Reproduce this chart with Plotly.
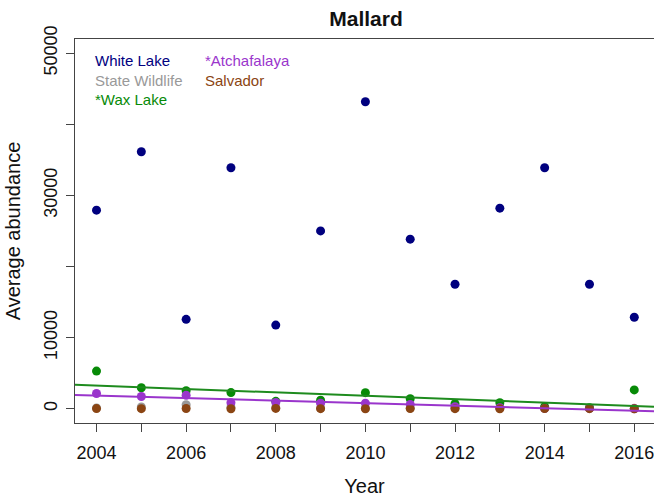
import numpy as np
import plotly.graph_objects as go

# Mallard average abundance by site and year
years = list(range(2004, 2017))
white_lake = [27930, 36140, 12580, 33890, 11770, 25010, 43180, 23850, 17510, 28210, 33890, 17510, 12870]
state_wildlife = [120, 260, 560, 220, 160, 110, 90, 100, 80, 70, 60, 50, 60]
wax_lake = [5300, 2950, 2550, 2280, 1050, 1200, 2270, 1410, 720, 840, 300, 150, 2650]
atchafalaya = [2150, 1730, 1900, 860, 900, 790, 790, 600, 300, 150, 50, 50, 0]
salvador = [30, 20, 40, 10, 50, 20, 10, 30, 20, 10, 40, 20, 10]

site_names = ["White Lake", "State Wildlife", "*Wax Lake", "*Atchafalaya", "Salvador"]
site_values = [white_lake, state_wildlife, wax_lake, atchafalaya, salvador]
site_colors = ["#00007F", "#999999", "#078A07", "#9A35CC", "#8B4513"]

x_range = [2003.52, 2016.44]
y_range = [-2000, 52000]
y_ticks = [0, 10000, 20000, 30000, 40000, 50000]
y_tick_text = ["0", "10000", "", "30000", "", "50000"]
x_tick_text = [str(y) if y % 2 == 0 else "" for y in years]

FONT = "Liberation Sans, Arial, sans-serif"
W, H = 654, 497
M_L, M_R, M_T, M_B = 75, 0, 39, 74
PW, PH = W - M_L - M_R, H - M_T - M_B

fig = go.Figure()

for name, vals, col in zip(site_names, site_values, site_colors):
    fig.add_trace(go.Scatter(
        x=years, y=vals, mode="markers", name=name,
        marker=dict(color=col, size=9, line=dict(width=0)),
        showlegend=False,
    ))

# Linear trends for the sites with significant declines
for vals, col in [(wax_lake, "#1E8B1E"), (atchafalaya, "#9A35CC")]:
    slope, intercept = np.polyfit(years, vals, 1)
    xs = np.array(x_range)
    fig.add_trace(go.Scatter(
        x=xs, y=intercept + slope * xs, mode="lines",
        line=dict(color=col, width=2), showlegend=False, hoverinfo="skip",
    ))

# Text-only legend in two columns (positions in pixels, converted to plot fractions)
legend_cols = [[0, 1, 2], [3, 4]]
col_x = [93, 203]
row_y = [60, 80, 100]
for ci, idxs in enumerate(legend_cols):
    for ri, i in enumerate(idxs):
        fig.add_annotation(
            x=(col_x[ci] - M_L) / PW, y=(H - M_B - row_y[ri]) / PH,
            xref="paper", yref="paper",
            xanchor="left", yanchor="middle", showarrow=False,
            text=site_names[i], font=dict(family=FONT, size=15, color=site_colors[i]),
        )

fig.update_layout(
    width=W, height=H,
    margin=dict(l=M_L, r=M_R, t=M_T, b=M_B),
    paper_bgcolor="white", plot_bgcolor="white",
    font=dict(family=FONT, size=18, color="#111111"),
    title=dict(text="<b>Mallard</b>", x=366 / W, xanchor="center",
               y=1 - 19 / H, yanchor="middle", yref="container",
               font=dict(family=FONT, size=21, color="#111111")),
)
fig.update_xaxes(
    range=x_range, showgrid=False, zeroline=False,
    showline=True, mirror=True, linecolor="#444444", linewidth=1,
    ticks="outside", ticklen=8, tickcolor="#444444",
    tickmode="array", tickvals=years, ticktext=x_tick_text,
    tickfont=dict(size=18), ticklabelstandoff=5, ticklabeloverflow="allow",
    title=dict(text="Year", font=dict(size=20), standoff=17),
)
fig.update_yaxes(
    range=y_range, showgrid=False, zeroline=False,
    showline=True, mirror=False, linecolor="#444444", linewidth=1,
    ticks="outside", ticklen=8, tickcolor="#444444",
    tickmode="array", tickvals=y_ticks, ticktext=y_tick_text,
    tickangle=-90, tickfont=dict(size=18), ticklabelstandoff=2,
    title=dict(text="Average abundance", font=dict(size=20), standoff=14),
)

fig.write_html("out.html")
